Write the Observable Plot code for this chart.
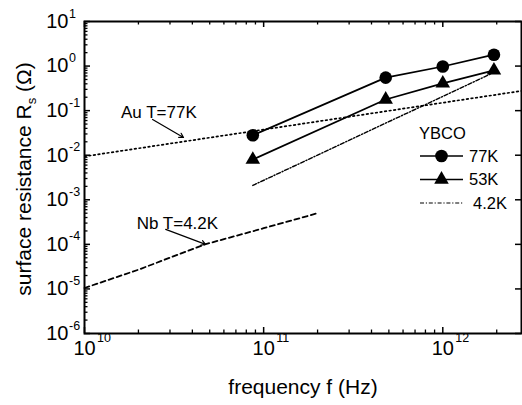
<!DOCTYPE html>
<html><head><meta charset="utf-8">
<script src="https://cdn.jsdelivr.net/npm/d3@7"></script>
<script src="https://cdn.jsdelivr.net/npm/@observablehq/plot@0.6"></script>
<style>
html,body{margin:0;padding:0;background:#fff;}
#chart{width:522px;height:405px;}
</style></head><body><div id="chart"></div>
<script>
// ---- data ----
const freqYBCO = [8.7e10, 4.8e11, 1.0e12, 1.93e12];
const rs77K = [0.028, 0.55, 0.98, 1.8];
const rs53K = [0.008, 0.178, 0.41, 0.80];
const freq42K = [8.7e10, 1.93e12];
const rs42K = [0.0021, 0.72];
const freqAu = [1e10, 2.75e12];
const rsAu = [0.0094, 0.277];
const freqNb = [1e10, 2e10, 4.7e10, 1e11, 2e11];
const rsNb = [1.05e-5, 2.7e-5, 1.0e-4, 2.3e-4, 5.0e-4];
const xExponents = [10, 11, 12];
const yExponents = [-6, -5, -4, -3, -2, -1, 0, 1];
const legendTitle = "YBCO";
const legendLabels = ["77K", "53K", "4.2K"];
const xLabel = "frequency f (Hz)";
const annotations = [
  {text: "Au T=77K", tx: 2.6e10, ty: 0.091, x1: 2.4e10, y1: 0.0635, x2: 3.57e10, y2: 0.025},
  {text: "Nb T=4.2K", tx: 3.3e10, ty: 2.95e-4, x1: 2.84e10, y1: 2.17e-4, x2: 4.74e10, y2: 1.0e-4}
];

// ---- layout ----
const W = 522, H = 405, mL = 84, mR = 1, mT = 21, mB = 72;
const innerW = W - mL - mR, innerH = H - mT - mB;
const xDomain = [1e10, 2.75e12], yDomain = [1e-6, 10];
const font = "'Liberation Sans', Arial, Helvetica, sans-serif";

const zip = (xs, ys) => xs.map((f, i) => ({f, r: ys[i]}));
const majorX = xExponents.map(e => 10 ** e);
const minorX = [];
for (const e of xExponents) for (let m = 2; m <= 9; m++) { const v = m * 10 ** e; if (v <= xDomain[1]) minorX.push(v); }
const majorY = yExponents.map(e => 10 ** e);
const minorY = [];
for (const e of yExponents.slice(0, -1)) for (let m = 2; m <= 9; m++) minorY.push(m * 10 ** e);

const chart = Plot.plot({
  width: W, height: H, marginLeft: mL, marginRight: mR, marginTop: mT, marginBottom: mB,
  x: {type: "log", domain: xDomain, axis: null},
  y: {type: "log", domain: yDomain, axis: null},
  style: {fontFamily: font, background: "white", color: "black", overflow: "visible"},
  marks: [
    // inward ticks
    Plot.ruleX(majorX, {x: d => d, insetTop: innerH - 6, stroke: "black", strokeWidth: 1.5}),
    Plot.ruleX(minorX, {x: d => d, insetTop: innerH - 3.5, stroke: "black", strokeWidth: 1.3}),
    Plot.ruleX(majorX, {x: d => d, insetBottom: innerH - 6, stroke: "black", strokeWidth: 1.5}),
    Plot.ruleX(minorX, {x: d => d, insetBottom: innerH - 3.5, stroke: "black", strokeWidth: 1.3}),
    Plot.ruleY(majorY, {y: d => d, insetRight: innerW - 6, stroke: "black", strokeWidth: 1.5}),
    Plot.ruleY(minorY, {y: d => d, insetRight: innerW - 3.5, stroke: "black", strokeWidth: 1.3}),
    Plot.ruleY(majorY, {y: d => d, insetLeft: innerW - 6, stroke: "black", strokeWidth: 1.5}),
    // curves
    Plot.line(zip(freqAu, rsAu), {x: "f", y: "r", stroke: "black", strokeWidth: 1.7, strokeDasharray: "1.6,3", clip: true}),
    Plot.line(zip(freqNb, rsNb), {x: "f", y: "r", stroke: "black", strokeWidth: 1.8, strokeDasharray: "5,3.5"}),
    Plot.line(zip(freq42K, rs42K), {x: "f", y: "r", stroke: "black", strokeWidth: 1.4, strokeDasharray: "4,1.8,1.2,1.8"}),
    Plot.line(zip(freqYBCO, rs77K), {x: "f", y: "r", stroke: "black", strokeWidth: 1.7}),
    Plot.line(zip(freqYBCO, rs53K), {x: "f", y: "r", stroke: "black", strokeWidth: 1.7}),
    Plot.dot(zip(freqYBCO, rs77K), {x: "f", y: "r", r: 6.3, fill: "black", symbol: "circle"}),
    Plot.dot(zip(freqYBCO, rs53K), {x: "f", y: "r", r: 5.4, fill: "black", symbol: "triangle"}),
    // annotations
    Plot.arrow(annotations, {x1: "x1", y1: "y1", x2: "x2", y2: "y2", stroke: "black", strokeWidth: 1.2, headLength: 6}),
    Plot.text(annotations, {x: "tx", y: "ty", text: "text", fontSize: 17, fill: "black"}),
    // tick labels
    Plot.text(yExponents, {y: e => 10 ** e, frameAnchor: "left", lineAnchor: "middle", text: () => "10", textAnchor: "end", dx: -16, fontSize: 20, fill: "black"}),
    Plot.text(yExponents, {y: e => 10 ** e, frameAnchor: "left", lineAnchor: "middle", text: e => String(e), textAnchor: "start", dx: -15.5, dy: -8, fontSize: 12.5, fill: "black"}),
    Plot.text(xExponents, {x: e => 10 ** e, frameAnchor: "bottom", lineAnchor: "middle", text: () => "10", textAnchor: "middle", dy: 15, fontSize: 20, fill: "black"}),
    Plot.text(xExponents, {x: e => 10 ** e, frameAnchor: "bottom", lineAnchor: "middle", text: e => String(e), textAnchor: "start", dx: 12.5, dy: 4, fontSize: 12.5, fill: "black"}),
    Plot.text([xLabel], {frameAnchor: "bottom", lineAnchor: "middle", text: d => d, dy: 54, fontSize: 21, fill: "black"}),
    Plot.frame({stroke: "black", strokeWidth: 2})
  ]
});
document.getElementById("chart").append(chart);

// ---- y-axis title with subscript ----
const svg = d3.select(chart);
const yt = svg.append("text")
  .attr("transform", `translate(31,${mT + innerH / 2 + 2}) rotate(-90)`)
  .attr("text-anchor", "middle").attr("font-family", font).attr("font-size", 21).attr("fill", "black");
yt.append("tspan").text("surface resistance R");
yt.append("tspan").attr("font-size", 13).attr("dy", 5).text("s");
yt.append("tspan").attr("dy", -5).text(" (\u03A9)");

// ---- legend (inside plot, upper right) ----
const lx = mL + innerW - 102, ly = mT + 112;
const lg = svg.append("g").attr("font-family", font).attr("fill", "black").attr("text-anchor", "start");
lg.append("text").attr("x", lx).attr("y", ly).attr("dy", "0.35em").attr("font-size", 16.5).text(legendTitle);
const rows = [
  {label: legendLabels[0], sym: d3.symbolCircle, size: Math.PI * 6.3 * 6.3, dash: null, w: 1.7, tx: 50},
  {label: legendLabels[1], sym: d3.symbolTriangle, size: Math.PI * 5.4 * 5.4, dash: null, w: 1.7, tx: 50},
  {label: legendLabels[2], sym: null, dash: "4,1.8,1.2,1.8", w: 1.2, tx: 54}
];
rows.forEach((row, i) => {
  const y = ly + 23 + i * 23.5;
  lg.append("line").attr("x1", lx + 1).attr("x2", lx + 44).attr("y1", y).attr("y2", y)
    .attr("stroke", "black").attr("stroke-width", row.w).attr("stroke-dasharray", row.dash);
  if (row.sym) lg.append("path").attr("transform", `translate(${lx + 22.5},${y})`)
    .attr("d", d3.symbol(row.sym, row.size)()).attr("fill", "black");
  lg.append("text").attr("x", lx + row.tx).attr("y", y).attr("dy", "0.35em").attr("font-size", 16.5).text(row.label);
});
</script></body></html>
